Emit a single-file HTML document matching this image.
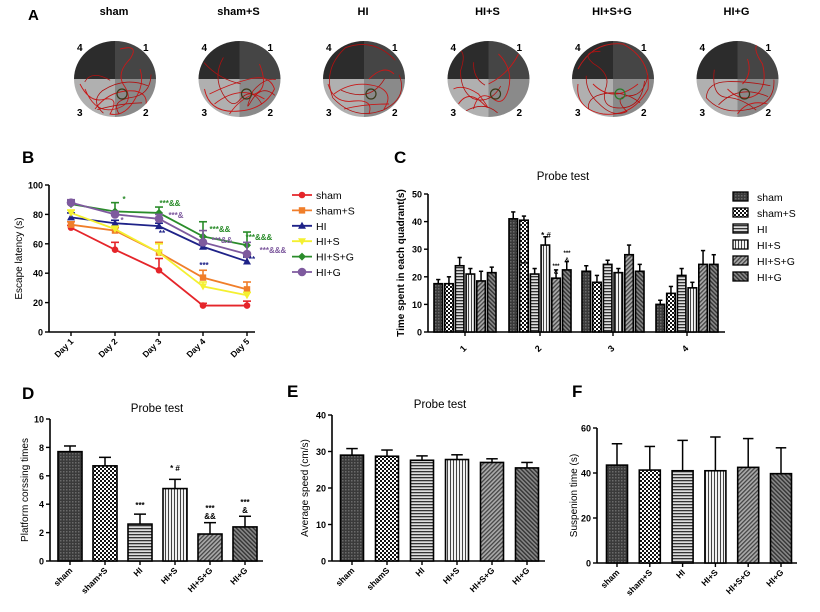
<!DOCTYPE html>
<html><head><meta charset="utf-8"><style>
html,body{margin:0;padding:0;background:#fff;}
svg{display:block;font-family:"Liberation Sans",Arial,sans-serif;}
</style></head><body>
<svg id="fig" width="820" height="612" viewBox="0 0 820 612">
<defs>
<pattern id="pSham" width="3" height="3" patternUnits="userSpaceOnUse"><rect width="3" height="3" fill="#3a3a3a"/><rect width="1.5" height="1.5" fill="#6a6a6a"/></pattern>
<pattern id="pShamS" width="4" height="4" patternUnits="userSpaceOnUse"><rect width="4" height="4" fill="#fff"/><rect width="2" height="2" fill="#111"/><rect x="2" y="2" width="2" height="2" fill="#111"/></pattern>
<pattern id="pHI" width="3" height="3" patternUnits="userSpaceOnUse"><rect width="3" height="3" fill="#ddd"/><rect width="3" height="1.3" fill="#333"/></pattern>
<pattern id="pHIS" width="3" height="3" patternUnits="userSpaceOnUse"><rect width="3" height="3" fill="#f2f2f2"/><rect width="1" height="3" fill="#444"/></pattern>
<pattern id="pHISG" width="3" height="3" patternUnits="userSpaceOnUse" patternTransform="rotate(45)"><rect width="3" height="3" fill="#aaa"/><rect width="1.3" height="3" fill="#444"/></pattern>
<pattern id="pHIG" width="3" height="3" patternUnits="userSpaceOnUse" patternTransform="rotate(-45)"><rect width="3" height="3" fill="#888"/><rect width="1.4" height="3" fill="#333"/></pattern>
</defs>
</svg>
<script>
// ---------- data ----------
const groups=["sham","sham+S","HI","HI+S","HI+S+G","HI+G"];
const days=["Day 1","Day 2","Day 3","Day 4","Day 5"];
const bSham=[71,56,42,18,18];
const bShamS=[73,69,54,37,29];
const bHI=[78,74,72,58,48];
const bHIS=[81,70,54,31,25];
const bHISG=[87,82,81,65,59];
const bHIG=[88,80,77,61,53];
const bErrSham=[1.5,5,8,1.5,3];
const bErrShamS=[2,2,7,5,5];
const bErrHI=[3,2,2,2,3];
const bErrHIS=[2,2,6,3,2];
const bErrHISG=[2,6,4,10,9];
const bErrHIG=[2,2,3,8,8];
const bTicks=[0,20,40,60,80,100];
const quadrants=["1","2","3","4"];
const cQ1=[17.5,17.5,24,21,18.5,21.5];
const cQ2=[41,40.5,21,31.5,19.5,22.5];
const cQ3=[22,18,24.5,21.5,28,22];
const cQ4=[10,14,20.5,16,24.5,24.5];
const cE1=[1.5,2.5,3,2,3.5,2];
const cE2=[2.5,1.5,2,3,3,3];
const cE3=[2,2.5,1.5,1.5,3.5,2.5];
const cE4=[1.5,2.5,2.5,2,5,3.5];
const cTicks=[0,10,20,30,40,50];
const dVals=[7.7,6.7,2.6,5.1,1.9,2.4];
const dErr=[0.4,0.6,0.7,0.65,0.8,0.75];
const dTicks=[0,2,4,6,8,10];
const dLabels=["sham","sham+S","HI","HI+S","HI+S+G","HI+G"];
const eVals=[29,28.7,27.6,27.8,27,25.5];
const eErr=[1.8,1.7,1.2,1.3,1,1.5];
const eTicks=[0,10,20,30,40];
const eLabels=["sham","shamS","HI","HI+S","HI+S+G","HI+G"];
const fVals=[43.5,41.3,41,41,42.5,39.7];
const fErr=[9.5,10.5,13.5,15,12.8,11.5];
const fTicks=[0,20,40,60];
const fLabels=["sham","sham+S","HI","HI+S","HI+S+G","HI+G"];

const NS="http://www.w3.org/2000/svg";
const svg=document.getElementById('fig');
function mk(tag,attrs,parent){const e=document.createElementNS(NS,tag);for(const k in attrs)e.setAttribute(k,attrs[k]);(parent||svg).appendChild(e);return e;}
function txt(s,attrs,parent){const e=mk('text',attrs,parent);e.textContent=s;return e;}
const pats=["url(#pSham)","url(#pShamS)","url(#pHI)","url(#pHIS)","url(#pHISG)","url(#pHIG)"];

// ---------- panel letters ----------
const letters=[["A",28,20,15],["B",22,163,17],["C",394,163,17],["D",22,399,17],["E",287,397,17],["F",572,397,17]];
letters.forEach(l=>{const t=txt(l[0],{x:l[1],y:l[2],'font-size':l[3],'font-weight':'bold'});

});

// ---------- panel A ----------
const trajs=[
"M-30,10 Q-20,35 0,30 Q20,25 10,8 Q0,-5 15,-20 Q25,-35 5,-30 M-35,5 Q-25,25 -10,20 Q5,18 -5,35 Q10,38 20,20 Q30,5 25,-10 M-20,30 Q-5,10 20,12 Q35,15 30,30",
"M-35,10 Q-30,35 0,32 Q25,30 35,10 Q30,-5 10,0 Q-10,5 -30,15 M-25,25 Q0,5 25,20 M-10,35 Q0,20 15,15 Q30,10 20,-15",
"M-36,5 Q-30,25 -10,22 Q10,20 5,35 M-30,15 Q-10,0 15,8 Q30,15 20,30 M5,0 Q20,-15 30,-5 M-20,30 Q0,25 25,25",
"M-15,30 Q-10,10 5,20 Q15,28 20,10 Q25,-10 10,-25 M-30,25 Q-20,10 -5,25 Q5,35 -10,15 Q-25,5 -35,10 M0,5 Q20,-5 30,-25",
"M-35,5 Q-38,30 -10,35 Q20,38 35,10 Q38,-20 10,-35 Q-20,-38 -35,-10 M-20,5 Q0,25 25,5",
"M-10,10 Q5,25 20,15 Q30,5 25,-15 Q15,-30 20,-35 M0,35 Q10,20 30,25 M5,5 Q15,-5 10,-20"];
groups.forEach((g,i)=>{
 const cx=115+i*124.5, cy=79;
 const G=mk('g',{});
 
 
 const t=txt(g,{x:cx-1,y:15,'font-size':11,'font-weight':'bold','text-anchor':'middle'},G);
 
 
 const cp=mk('clipPath',{id:'cp'+i},G);
 mk('ellipse',{cx:cx,cy:cy,rx:41,ry:38},cp);
 const Q=mk('g',{'clip-path':'url(#cp'+i+')'},G);
 mk('rect',{x:cx-41,y:cy-38,width:41,height:38,fill:'#2c2c2c'},Q);
 mk('rect',{x:cx,y:cy-38,width:41,height:38,fill:'#454545'},Q);
 mk('rect',{x:cx-41,y:cy,width:41,height:38,fill:'#b0b0b0'},Q);
 mk('rect',{x:cx,y:cy,width:41,height:38,fill:'#8a8a8a'},Q);
 const p=mk('path',{d:trajs[i],transform:'translate('+(cx)+','+(cy)+')',fill:'none',stroke:'#c81818','stroke-width':0.9},Q);
 
 
 const p2=mk('path',{d:trajs[(i+2)%6],transform:'translate('+(cx)+','+(cy)+') scale(-1,1) rotate(15)',fill:'none',stroke:'#b01010','stroke-width':0.8},Q);
 
 
 const pl=mk('circle',{cx:cx+7,cy:cy+15,r:5,fill:'none',stroke:i==4?'#2a7a2a':'#3a3a1a','stroke-width':1.2},G);
 
 
 [["4",cx-38,51],["1",cx+28,51],["3",cx-38,116],["2",cx+28,116]].forEach(n=>{
  const q=txt(n[0],{x:n[1],y:n[2],'font-size':10,'font-weight':'bold'},G);
  
  });
});

// ---------- generic helpers ----------
function yAxis(x,y0,y1,ticks,yf,label,lx,bold){
 const a=mk('line',{x1:x,y1:y0,x2:x,y2:y1,stroke:'#000','stroke-width':1.6});
 
 
 ticks.forEach(v=>{mk('line',{x1:x-4,y1:yf(v),x2:x,y2:yf(v),stroke:'#000','stroke-width':1.4});
  const t=txt(String(v),{x:x-6,y:yf(v)+3.5,'font-size':9,'font-weight':'bold','text-anchor':'end'});
  
  });
 const cy=(y0+y1)/2;
 const l=txt(label,{x:lx,y:cy,'font-size':10,'font-weight':bold?'bold':'normal','text-anchor':'middle',transform:'rotate(-90 '+lx+' '+cy+')'});
 
 
}
function xAxis(x0,x1,y){const a=mk('line',{x1:x0,y1:y,x2:x1,y2:y,stroke:'#000','stroke-width':1.6});
 
 }
function xLabel(s,x,y){mk('line',{x1:x,y1:y-8,x2:x,y2:y-4,stroke:'#000','stroke-width':1.4});
 const t=txt(s,{x:x+3,y:y+2,'font-size':8.5,'font-weight':'bold','text-anchor':'end',transform:'rotate(-45 '+(x+3)+' '+(y+2)+')'});
 
 }
function errBar(x,y0,y1,w){mk('line',{x1:x,y1:y0,x2:x,y2:y1,stroke:'#000','stroke-width':1.5});mk('line',{x1:x-w/2,y1:y1,x2:x+w/2,y2:y1,stroke:'#000','stroke-width':1.5});}
function note(s,x,y,c,fs){const t=txt(s,{x:x,y:y,'font-size':fs||8,'font-weight':'bold',fill:c||'#000','text-anchor':'middle'});
 
 }
function title(s,x,y){const t=txt(s,{x:x,y:y,'font-size':11.5,'text-anchor':'middle'});
 
 }
function barChart(vals,errs,labels,xf,w,yf,base,prefix){
 vals.forEach((v,i)=>{const r=mk('rect',{x:xf(i)-w/2,y:yf(v),width:w,height:base-yf(v),fill:pats[i],stroke:'#000','stroke-width':1.6});
  
  
  errBar(xf(i),yf(v),yf(v+errs[i]),w*0.5);});
}

// ---------- panel B ----------
const yB=v=>332-v*1.47, xB=i=>71+i*44;
yAxis(49,185,332,bTicks,yB,"Escape latency (s)",22,false);
xAxis(49,255,332);
days.forEach((d,i)=>xLabel(d,xB(i),340));
const bSeries=[[bSham,bErrSham,'#e5252a','circle','sham'],[bShamS,bErrShamS,'#f07e2a','square','sham+S'],[bHI,bErrHI,'#1e2288','tri','HI'],[bHIS,bErrHIS,'#f4f030','dtri','HI+S'],[bHISG,bErrHISG,'#2a8c2a','diamond','HI+S+G'],[bHIG,bErrHIG,'#7e5a9e','bigcircle','HI+G']];
function marker(type,x,y,c,parent){
 let e;
 if(type==='circle')e=mk('circle',{cx:x,cy:y,r:3.3,fill:c},parent);
 else if(type==='bigcircle')e=mk('circle',{cx:x,cy:y,r:4.3,fill:c},parent);
 else if(type==='square')e=mk('rect',{x:x-3.2,y:y-3.2,width:6.4,height:6.4,fill:c},parent);
 else if(type==='tri')e=mk('polygon',{points:(x)+','+(y-4)+' '+(x-4)+','+(y+3)+' '+(x+4)+','+(y+3),fill:c},parent);
 else if(type==='dtri')e=mk('polygon',{points:(x)+','+(y+4)+' '+(x-4)+','+(y-3)+' '+(x+4)+','+(y-3),fill:c},parent);
 else e=mk('polygon',{points:(x)+','+(y-4)+' '+(x-4)+','+y+' '+x+','+(y+4)+' '+(x+4)+','+y,fill:c},parent);
 return e;
}
bSeries.forEach((s,si)=>{
 const G=mk('g',{});
 
 
 s[0].forEach((v,i)=>{mk('line',{x1:xB(i),y1:yB(v),x2:xB(i),y2:yB(v+s[1][i]),stroke:s[2],'stroke-width':1.6},G);
  mk('line',{x1:xB(i)-4,y1:yB(v+s[1][i]),x2:xB(i)+4,y2:yB(v+s[1][i]),stroke:s[2],'stroke-width':1.6},G);});
 mk('polyline',{points:s[0].map((v,i)=>xB(i)+','+yB(v)).join(' '),fill:'none',stroke:s[2],'stroke-width':1.8},G);
 s[0].forEach((v,i)=>{const m=marker(s[3],xB(i),yB(v),s[2],G);
  
  });
 const ly=195+si*15.4;
 const L=mk('g',{},svg);
 
 
 mk('line',{x1:292,y1:ly,x2:312,y2:ly,stroke:s[2],'stroke-width':1.8},L);
 marker(s[3],302,ly,s[2],L);
 txt(s[4],{x:316,y:ly+4,'font-size':10.5},L);
});
note("*",124,202,'#2a8c2a');note("***&&",170,206,'#2a8c2a');note("***&",176,218,'#7e5a9e');note("*",122,223,'#7e5a9e');
note("**",162,236,'#1e2288');note("***&&",220,232,'#2a8c2a');note("***&&",222,243,'#7e5a9e');note("***",204,268,'#1e2288');
note("***&&&",259,240,'#2a8c2a');note("***&&&",273,253,'#7e5a9e');note("**",252,262,'#1e2288');

// ---------- panel C ----------
const yC=v=>332-v*2.76;
const gC=[465,540,613,687];
const cVals=[cQ1,cQ2,cQ3,cQ4], cErrs=[cE1,cE2,cE3,cE4];
title("Probe test",563,180);
yAxis(428,194,332,cTicks,yC,"Time spent in each quadrant(s)",404,true);
xAxis(428,725,332);
quadrants.forEach((q,i)=>{mk('line',{x1:gC[i],y1:332,x2:gC[i],y2:336,stroke:'#000','stroke-width':1.4});
 const t=txt(q,{x:gC[i]+2,y:349,'font-size':9,'font-weight':'bold','text-anchor':'end',transform:'rotate(-45 '+(gC[i]+2)+' 349)'});
 
 });
cVals.forEach((arr,gi)=>barChart(arr,cErrs[gi],groups,j=>gC[gi]+(j-2.5)*10.7,8.5,yC,332,'quadrant'+(gi+1)));
note("* #",546,238,'#000',8);note("***",524,266,'#000',6);note("***",556,268,'#000',6);note("&",556,274,'#000',6);note("***",567,255,'#000',6);note("&",567,262,'#000',6);
groups.forEach((g,i)=>{const ly=197+i*16;
 const L=mk('g',{});
 
 
 mk('rect',{x:733,y:ly-5,width:15,height:9,fill:pats[i],stroke:'#000','stroke-width':1.3},L);
 txt(g,{x:757,y:ly+4,'font-size':10.5},L);});

// ---------- panel D ----------
const yD=v=>561-v*14.2, xD=i=>70+i*35;
title("Probe test",157,412);
yAxis(50,419,561,dTicks,yD,"Platform corssing times",28,false);
xAxis(50,263,561);
dLabels.forEach((l,i)=>xLabel(l,xD(i),569));
barChart(dVals,dErr,dLabels,xD,24,yD,561,'crossing');
note("***",xD(2),508);note("* #",xD(3),471);note("***",xD(4),511);note("&&",xD(4),519);note("***",xD(5),505);note("&",xD(5),513);

// ---------- panel E ----------
const yE=v=>561-v*3.65, xE=i=>352+i*35;
title("Probe test",440,408);
yAxis(332,415,561,eTicks,yE,"Average  speed (cm/s)",308,false);
xAxis(332,545,561);
eLabels.forEach((l,i)=>xLabel(l,xE(i),569));
barChart(eVals,eErr,eLabels,xE,23,yE,561,'speed');

// ---------- panel F ----------
const yF=v=>563-v*2.25, xF=i=>617+i*32.8;
yAxis(597,428,563,fTicks,yF,"Suspenion time (s)",577,false);
xAxis(597,797,563);
fLabels.forEach((l,i)=>xLabel(l,xF(i),571));
barChart(fVals,fErr,fLabels,xF,21,yF,563,'suspension');
</script>
</body></html>
